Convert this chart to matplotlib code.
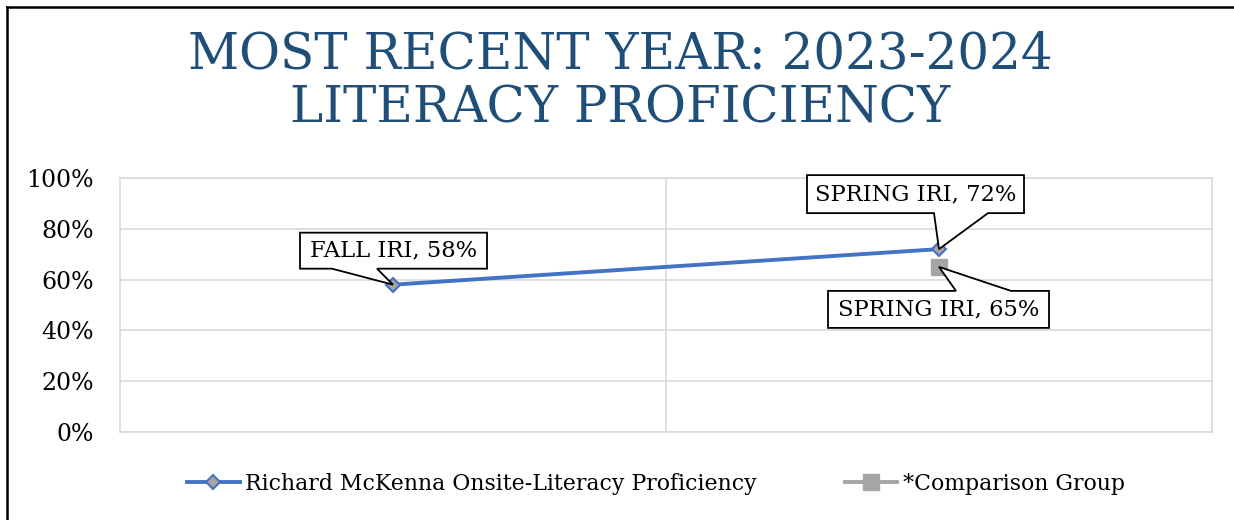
import numpy as np
import matplotlib
matplotlib.use("Agg")
import matplotlib.pyplot as plt
import matplotlib.transforms as mtransforms
from matplotlib.patches import Polygon
from matplotlib.lines import Line2D
from matplotlib.ticker import PercentFormatter

plt.rcParams['font.family'] = ['DejaVu Serif']

# data
categories = ["FALL IRI", "SPRING IRI"]
school = [0.58, 0.72]
comparison = [np.nan, 0.65]
series_names = ["Richard McKenna Onsite-Literacy Proficiency", "*Comparison Group"]
title_lines = ["MOST RECENT YEAR: 2023-2024", "LITERACY PROFICIENCY"]
y_ticks = [0, 0.2, 0.4, 0.6, 0.8, 1.0]

blue = "#4472C4"
gray = "#A5A5A5"
grid_c = "#D9D9D9"
title_c = "#1F4E79"

fig = plt.figure(figsize=(12.34, 5.2), dpi=100)
ax = fig.add_axes([120/1234, 1-432/520, (1212-120)/1234, (432-178)/520])

x = np.arange(len(categories))
ax.plot(x, school, color=blue, lw=2.8, marker='D', ms=7, mfc=gray, mec=blue, mew=1.5,
        zorder=3, label=series_names[0])
ax.plot(x, comparison, color=gray, lw=2.8, marker='s', ms=11, mfc=gray, mec=gray,
        zorder=3, label=series_names[1])

ax.set_xlim(-0.5, len(categories) - 0.5)
ax.set_ylim(0, 1)
ax.set_yticks(y_ticks)
ax.yaxis.set_major_formatter(PercentFormatter(1.0, decimals=0))
ax.set_xticks([])
ax.tick_params(axis='y', length=0, pad=19, labelsize=17)
ax.grid(axis='y', color=grid_c, lw=1.2)
for xv in x[:-1] + 0.5:
    ax.axvline(xv, color=grid_c, lw=1.2, zorder=0)
for sp in ax.spines.values():
    sp.set_color(grid_c)
    sp.set_linewidth(1.2)
ax.set_axisbelow(True)


def callout(xv, yv, text, box, base):
    # box = (left, right, bottom, top) in px from the point (y up); base = pointer base on the near edge
    x0, x1, y0, y1 = [v / 100 for v in box]
    xa, xb = [v / 100 for v in base]
    trans = fig.dpi_scale_trans + mtransforms.ScaledTranslation(xv, yv, ax.transData)
    if y0 > 0:
        verts = [(x0, y0), (xa, y0), (0, 0), (xb, y0), (x1, y0), (x1, y1), (x0, y1)]
    else:
        verts = [(x0, y1), (xa, y1), (0, 0), (xb, y1), (x1, y1), (x1, y0), (x0, y0)]
    ax.add_patch(Polygon(verts, closed=True, fc='white', ec='black', lw=1.3,
                         transform=trans, zorder=5, clip_on=False))
    ax.text((x0 + x1) / 2, (y0 + y1) / 2, text, transform=trans, ha='center', va='center',
            fontsize=16.3, zorder=6)


callout(x[0], school[0], f"{categories[0]}, {school[0]:.0%}", (-93, 94, 16, 52), (-61, -16))
callout(x[1], school[1], f"{categories[1]}, {school[1]:.0%}", (-132, 85, 36, 74), (-5, 49))
callout(x[1], comparison[1], f"{categories[1]}, {comparison[1]:.0%}", (-111, 110, -61, -24), (17, 72))

for i, line in enumerate(title_lines):
    fig.text(620/1234, 1 - (55 + 54*i)/520, line, ha='center', va='center',
             fontsize=36, color=title_c)

fig.legend(loc='center', bbox_to_anchor=(656/1234, 1-484/520), ncol=2, frameon=False,
           fontsize=15.8, handlelength=2.4, handletextpad=0.25, columnspacing=4.0,
           borderpad=0)

# frame edges of the original slide
fig.add_artist(Line2D([7/1234, 7/1234], [0, 1-7/520], color='black', lw=1.8, transform=fig.transFigure))
fig.add_artist(Line2D([7/1234, 1], [1-7/520, 1-7/520], color='black', lw=1.8, transform=fig.transFigure))

fig.savefig("out.png", dpi=100)
